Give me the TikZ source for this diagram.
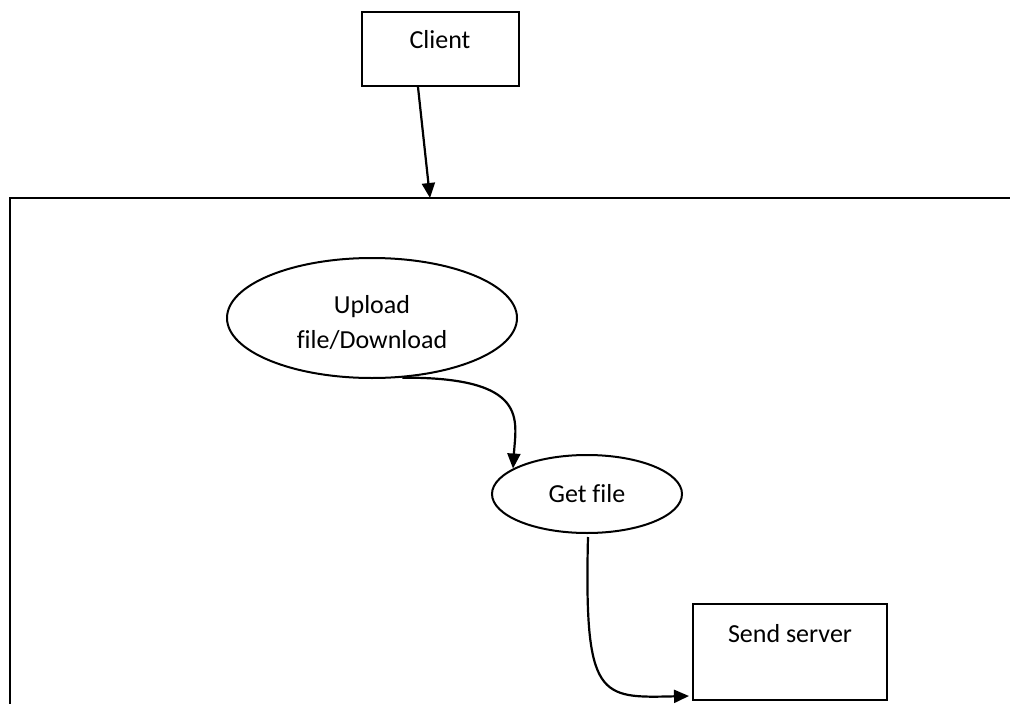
\documentclass[tikz,border=0pt]{standalone}
\usepackage{fontspec}
\setmainfont{Carlito}[Ligatures=NoCommon]
\usetikzlibrary{shapes.geometric,arrows.meta,calc}
\newcommand{\lowered}[1]{\raisebox{-5pt}[\height][\depth]{#1}}
\begin{document}
\begin{tikzpicture}[x=1pt,y=-1pt,
  every node/.style={font=\fontsize{26}{35}\selectfont, line width=2pt},
  boxnode/.style={draw, rectangle, inner sep=0pt},
  ellnode/.style={draw, ellipse, inner sep=0pt, align=center},
  conn/.style={line width=2.2pt, -{Triangle[length=15pt,width=13pt]}},
  frame/.style={line width=2.4pt}]
\useasboundingbox (0,0) rectangle (1010,704);
% outer frame (open right and bottom)
\draw[frame] (1012,198) -- (10,198) -- (10,706);
\coordinate (ftop) at (430,198);
% nodes
\node[boxnode, minimum width=157pt, minimum height=74pt, text height=18pt, text depth=20pt] (cl) at (440,49) {Client};
\node[ellnode, minimum width=290pt, minimum height=120pt] (up) at (372,318) {\lowered{Upload}\\\lowered{file/Download}};
\node[ellnode, minimum width=190pt, minimum height=78pt] (gf) at (587,494) {Get file};
\node[boxnode, minimum width=194pt, minimum height=96pt, text height=18pt, text depth=38pt] (ss) at (790,652) {Send server};
% connectors
\draw[conn] ($(cl.south)+(-22,0)$) -- (ftop);
\draw[conn] (up.-63) .. controls (530,377) and (516,420) .. (gf.161);
\draw[conn] ($(gf.south)+(1,3)$) .. controls (584,700) and (600,698) .. ($(ss.south west)+(-3,-5)$);
\end{tikzpicture}
\end{document}
